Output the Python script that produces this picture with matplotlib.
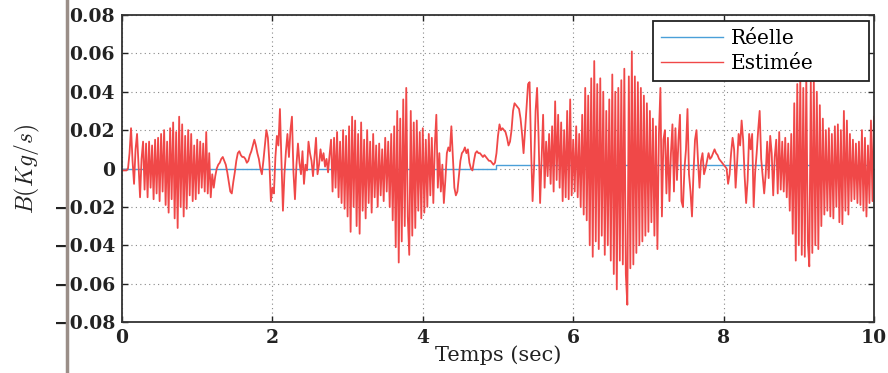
import numpy as np
import matplotlib
matplotlib.use('Agg')
import matplotlib.pyplot as plt
from matplotlib.lines import Line2D

plt.rcParams['font.family'] = 'DejaVu Serif'
plt.rcParams['mathtext.fontset'] = 'cm'

# estimated flow, sampled every 20 ms, in 1e-3 Kg/s (one row = 0.5 s)
dt = 0.02
estimee_milli = [
    -1, -1, -1, -1, 0, 8, 21, 4, -8, 10, 18, 1, -15, 5, 14, -11, 13, -15, 14, -10, 12, -16, 15, -13, 16,
    -17, 18, -12, 20, -19, 14, -23, 21, -16, 24, -26, 19, -31, 27, -20, 23, -25, 17, -21, 20, -14, 18, -17, 12, -16,
    15, -13, 14, -10, 13, -12, 19, -13, 8, -15, -3, -10, -4, 0, 2, 3, 5, 6, 4, 2, -2, -7, -12, -13, -7,
    -2, 4, 8, 9, 7, 6, 6, 5, 3, 4, 7, 9, 12, 15, 12, 8, 5, 0, -3, 4, 12, 20, 16, 3, -17,
    -10, -13, 6, 17, 12, 31, 5, -22, -3, 9, 18, 6, 20, 27, -2, -16, 2, 13, 3, -3, 9, -8, 2, -1, 14,
    8, 4, -4, 6, 16, -3, 2, 10, 4, 8, 1, 5, -2, 7, 15, -12, 16, -10, 19, -15, 14, -18, 20, -21, 17,
    -25, 22, -33, 27, -20, 25, -30, 18, -34, 24, -22, 15, -26, 20, -18, 14, -23, 18, -15, 12, -20, 13, -14, 10, -17,
    16, -12, 14, -20, 18, -27, 22, -41, 30, -49, 26, -38, 36, -30, 42, -25, -45, 30, -35, 24, -31, 25, -22, 19, -26,
    21, -23, 15, -20, 18, -14, 16, -18, 12, 28, -10, 8, -12, 2, -18, -6, 8, 11, 9, 22, 6, -10, -14, -12, -4,
    4, 8, 9, 11, 8, 10, 3, 0, -1, 4, 8, 9, 8, 8, 7, 6, 7, 6, 5, 4, 4, 3, 2, 3, 8,
    17, 23, 20, 21, 20, 19, 16, 12, 14, 20, 30, 34, 33, 32, 31, 26, 18, 8, 20, 32, 44, 45, 10, -17, 1,
    30, 42, 16, -18, 5, 28, -10, 14, -4, 18, -8, 22, -12, 35, -6, 28, -10, 24, -17, 20, -15, 30, -16, 36, -14,
    15, -12, 22, -15, 18, -20, 28, -24, 42, -27, 38, -40, 47, -46, 56, -38, 44, -42, 47, -35, 40, -45, 30, -40, 36,
    -48, 49, -55, 40, -63, 42, -48, 46, -50, 52, -55, -71, 48, -52, 61, -50, 48, -44, 45, -40, 42, -38, 38, -35, 34,
    -33, 30, -28, 26, -35, 22, -42, 18, 42, -25, 15, 20, -13, 16, -17, 8, 23, -12, 21, -6, 15, 28, -17, -20, 0,
    10, 31, -3, -12, -25, -2, 15, 20, 4, -10, 4, 8, -3, 0, 4, 8, 5, 6, 8, 10, 8, 7, 5, 4, 3,
    2, 1, 0, -8, -3, 8, 16, 10, -10, 3, 18, 12, 25, 15, -4, -18, -6, 18, 10, 18, -20, -2, 8, 20, 30,
    5, -4, -13, -3, 14, -5, 17, 8, -14, 6, 15, -13, 19, -11, 14, -12, 16, -15, 13, -22, 18, -34, 34, -48, 44,
    -40, 48, -45, 42, -46, 48, -38, -51, 45, -44, 47, -40, 40, -42, 33, -30, 26, -24, 20, -22, 21, -25, 18, -26, 22,
    -20, 23, -28, 20, -29, 30, -22, 25, -24, 18, -17, 15, -16, 13, -18, 14, -19, 20, -22, 16, -25, 12, -18, 25, -17,
    27,
]

# reference flow: step at t = 5 s
reelle_t = [0.0, 4.98, 4.98, 10.0]
reelle_b = [0.0, 0.0, 0.0018, 0.0018]

xticks = [0, 2, 4, 6, 8, 10]
yticks = [-0.08, -0.06, -0.04, -0.02, 0, 0.02, 0.04, 0.06, 0.08]
ytick_labels = ['\u22120.08', '\u22120.06', '\u22120.04', '\u22120.02', '0',
                '0.02', '0.04', '0.06', '0.08']

t_est = dt * np.arange(len(estimee_milli))
b_est = np.array(estimee_milli) / 1000.0

fig = plt.figure(figsize=(8.88, 3.73), dpi=100)
ax = fig.add_axes([0.1374, 0.1367, 0.8468, 0.8231])

ax.plot(reelle_t, reelle_b, color='#4a9fd8', lw=1.0, label='R\u00e9elle')
ax.plot(t_est, b_est, color='#f04848', lw=1.3, label='Estim\u00e9e')

ax.set_xlim(0, 10)
ax.set_ylim(-0.08, 0.08)
ax.set_xticks(xticks)
ax.set_xticklabels([str(v) for v in xticks])
ax.set_yticks(yticks)
ax.set_yticklabels(ytick_labels)
ax.tick_params(direction='in', length=4, width=1, top=True, right=True,
               labelsize=13.5, colors='#222222', pad=5)
for lab in ax.get_xticklabels() + ax.get_yticklabels():
    lab.set_fontweight('bold')
ax.grid(True, color='#888888', linestyle=(0, (1, 3)), linewidth=0.8)
for s in ax.spines.values():
    s.set_color('#333333')
    s.set_linewidth(1.3)

ax.set_xlabel('Temps (sec)', fontsize=15, color='#222222', labelpad=-1)
ax.set_ylabel('$B(Kg/s)$', fontsize=17, color='#222222')
ax.yaxis.set_label_coords(-0.106, 0.5)

leg = ax.legend(loc='upper left', mode='expand', fontsize=14.5,
                bbox_to_anchor=(653 / 888, 1 - 84 / 373, 216 / 888, 63 / 373),
                bbox_transform=fig.transFigure, borderaxespad=0,
                handlelength=3.1, handletextpad=0.35, fancybox=False,
                framealpha=1, edgecolor='#222222', labelspacing=0.3)
leg.get_frame().set_linewidth(1.3)
for h in leg.get_lines():
    h.set_linewidth(1.0)

# page edge line on the left
fig.add_artist(Line2D([0.0755, 0.0755], [0, 1], transform=fig.transFigure,
                      color='#9a8e88', lw=2.5))

fig.savefig('out.png', dpi=100)
